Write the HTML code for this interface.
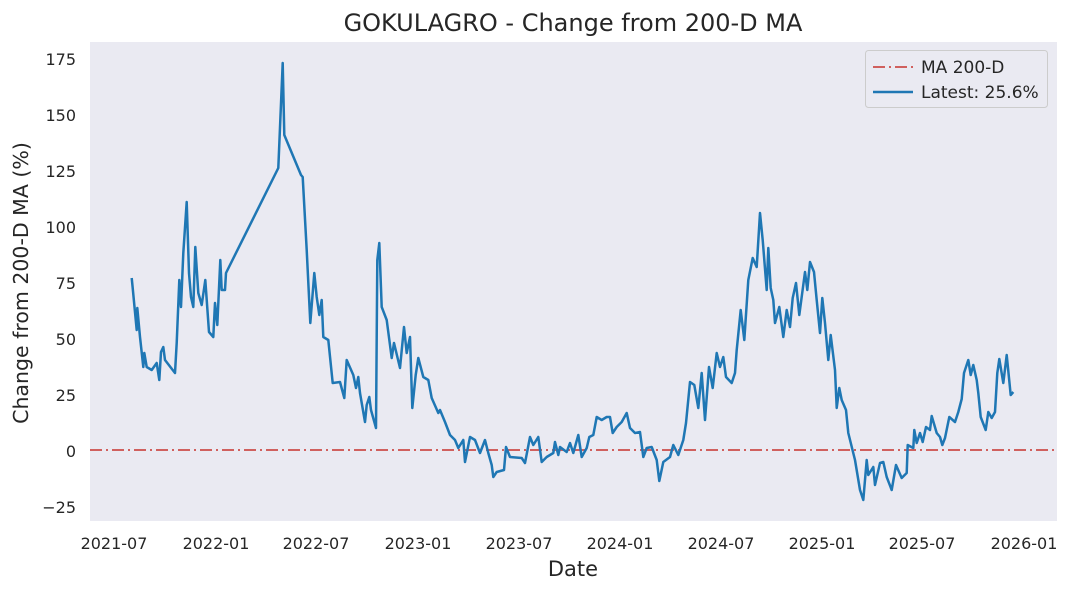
<!DOCTYPE html>
<html><head><meta charset="utf-8"><style>
body{margin:0;background:#fff;}
svg text{font-family:"DejaVu Sans","Liberation Sans",sans-serif;fill:#262626;}
</style></head><body>
<svg width="1072" height="592" viewBox="0 0 1072 592" xmlns="http://www.w3.org/2000/svg">
<rect width="1072" height="592" fill="#fff"/>
<rect x="90" y="42" width="967" height="479" fill="#eaeaf2"/>
<text x="573" y="31" font-size="24" text-anchor="middle">GOKULAGRO - Change from 200-D MA</text>
<g font-size="16" text-anchor="end">
<text x="76" y="65">175</text><text x="76" y="121">150</text><text x="76" y="177">125</text>
<text x="76" y="233">100</text><text x="76" y="289">75</text><text x="76" y="345">50</text>
<text x="76" y="401">25</text><text x="76" y="457">0</text><text x="76" y="513">−25</text>
</g>
<g font-size="16" text-anchor="middle">
<text x="114" y="549">2021-07</text><text x="216" y="549">2022-01</text><text x="316" y="549">2022-07</text>
<text x="418" y="549">2023-01</text><text x="519" y="549">2023-07</text><text x="620" y="549">2024-01</text>
<text x="721" y="549">2024-07</text><text x="822" y="549">2025-01</text><text x="922" y="549">2025-07</text>
<text x="1024" y="549">2026-01</text>
</g>
<text x="573" y="576" font-size="21" text-anchor="middle">Date</text>
<text transform="translate(28,283) rotate(-90)" font-size="20.5" text-anchor="middle">Change from 200-D MA (%)</text>
<line x1="90" y1="450" x2="1057" y2="450" stroke="#d0605e" stroke-width="2" stroke-dasharray="12,4,2,4"/>
<polyline fill="none" stroke="#1f77b4" stroke-width="2.5" stroke-linejoin="round" points="
131.7,278 132.7,288 136.7,330 137.3,308 140,337 143.3,367 144.3,353 146.7,367 151.7,370 156.7,363 159.3,380 161,352 163.3,347 165,360 175,373 176.7,343 179.3,280 181,307 183.3,253 186.7,202 189,273 191,297 193.3,307 195.3,247 198.3,293 201.7,305 205.3,280 209,332 213.3,337 215,303 217.3,325 220.3,260 221.7,290 225,290 226,273 278.3,168 282.7,63 284.3,135 301,175 302.7,177 306.7,250 310.3,323 314.3,273 316.7,297 319.3,315 321.7,300 323.3,337 328.3,340 332.7,383 340,382 344.3,398 346.7,360 353.3,375 356,388 358.3,377 360,393 365,422 366.7,405 369.3,397 371,410 376,428 377.3,260 379.3,243 381.7,307 386.7,320 391.7,358 394,343 400,368 404,327 406.7,353 410,337 412.3,408 415.7,375 418.3,358 423.3,377 428.3,380 431.7,398 438.3,413
440,410 445,422 450,435 455,440 458.3,448 463.3,440 465,462 470,437 475,440 480,453 485,440 488.3,453 491.7,465 493.3,477 496.7,472 504,470 506,447 510,457 521.7,458 525,463 530,437 533.3,445 538.3,437 541.7,462 546.7,457 553.3,453 555,442 558.3,455 560,447 566.7,452 570,443 573.3,453 578.3,435 581.7,457 586.7,448 589.3,437 593.3,435 596.7,417 601.7,420 606.7,417 610,417 612.7,433 616.7,427 621.7,422 626.7,413 630,428 635,433 640,432 643.3,457 646.7,448 651.7,447 656.7,460 659.3,481 663.3,462 670,457 673.3,445 678.3,455 683.3,440 686,423 690,382 694.3,385 698.3,408 701.7,373 705,420 709,367 712.7,388 716.7,353 720,367 723.3,357 726,377 731.7,383 735,373 736.7,350 740.7,310 744.3,340 748.3,280 752.7,258 756.7,267 760,213 762.7,240 766.7,290 768.3,248 770.7,288 773.3,300 775,323 779.3,307 783.3,337 786.7,310 790,327 792.7,298 796,283 799.3,315 805,272 807.3,290 810,262 814,272 816.7,300 820,333 822.3,298 825,323 828.3,360 830.7,335 835,370 836.7,408 839.3,388 841.7,400 846,410 848.3,433 855,460 860,490 863.3,500 866.7,460 868.3,475 873.3,467 875,485 880,463 883.3,462 886.7,477 891.7,490 896,465 901.7,478 906.7,473 907.7,445 913.3,448 914.3,430 916.7,443 920,433 922.7,442 926,427 930,430 931.7,416 936.7,433 940,437 942.3,445 945,438 949.3,417 955,422 958.3,412 961.7,399 964,373 968.3,360 970.7,375 973.3,365 976.7,380 978.3,393 980.7,417 985.7,430 988.3,412 991.7,418 995,412 997.3,373 999.3,359 1003.3,383 1006.7,355 1010.7,395 1013.3,392"/>
<rect x="865.5" y="50.5" width="182" height="57" rx="3" fill="#eaeaf2" stroke="#cccccc"/>
<line x1="873" y1="67" x2="913" y2="67" stroke="#d0605e" stroke-width="2" stroke-dasharray="12,4,2,4"/>
<line x1="873" y1="92" x2="913" y2="92" stroke="#1f77b4" stroke-width="2.5"/>
<text x="921" y="73" font-size="17">MA 200-D</text>
<text x="921" y="98" font-size="17">Latest: 25.6%</text>
</svg>
</body></html>
